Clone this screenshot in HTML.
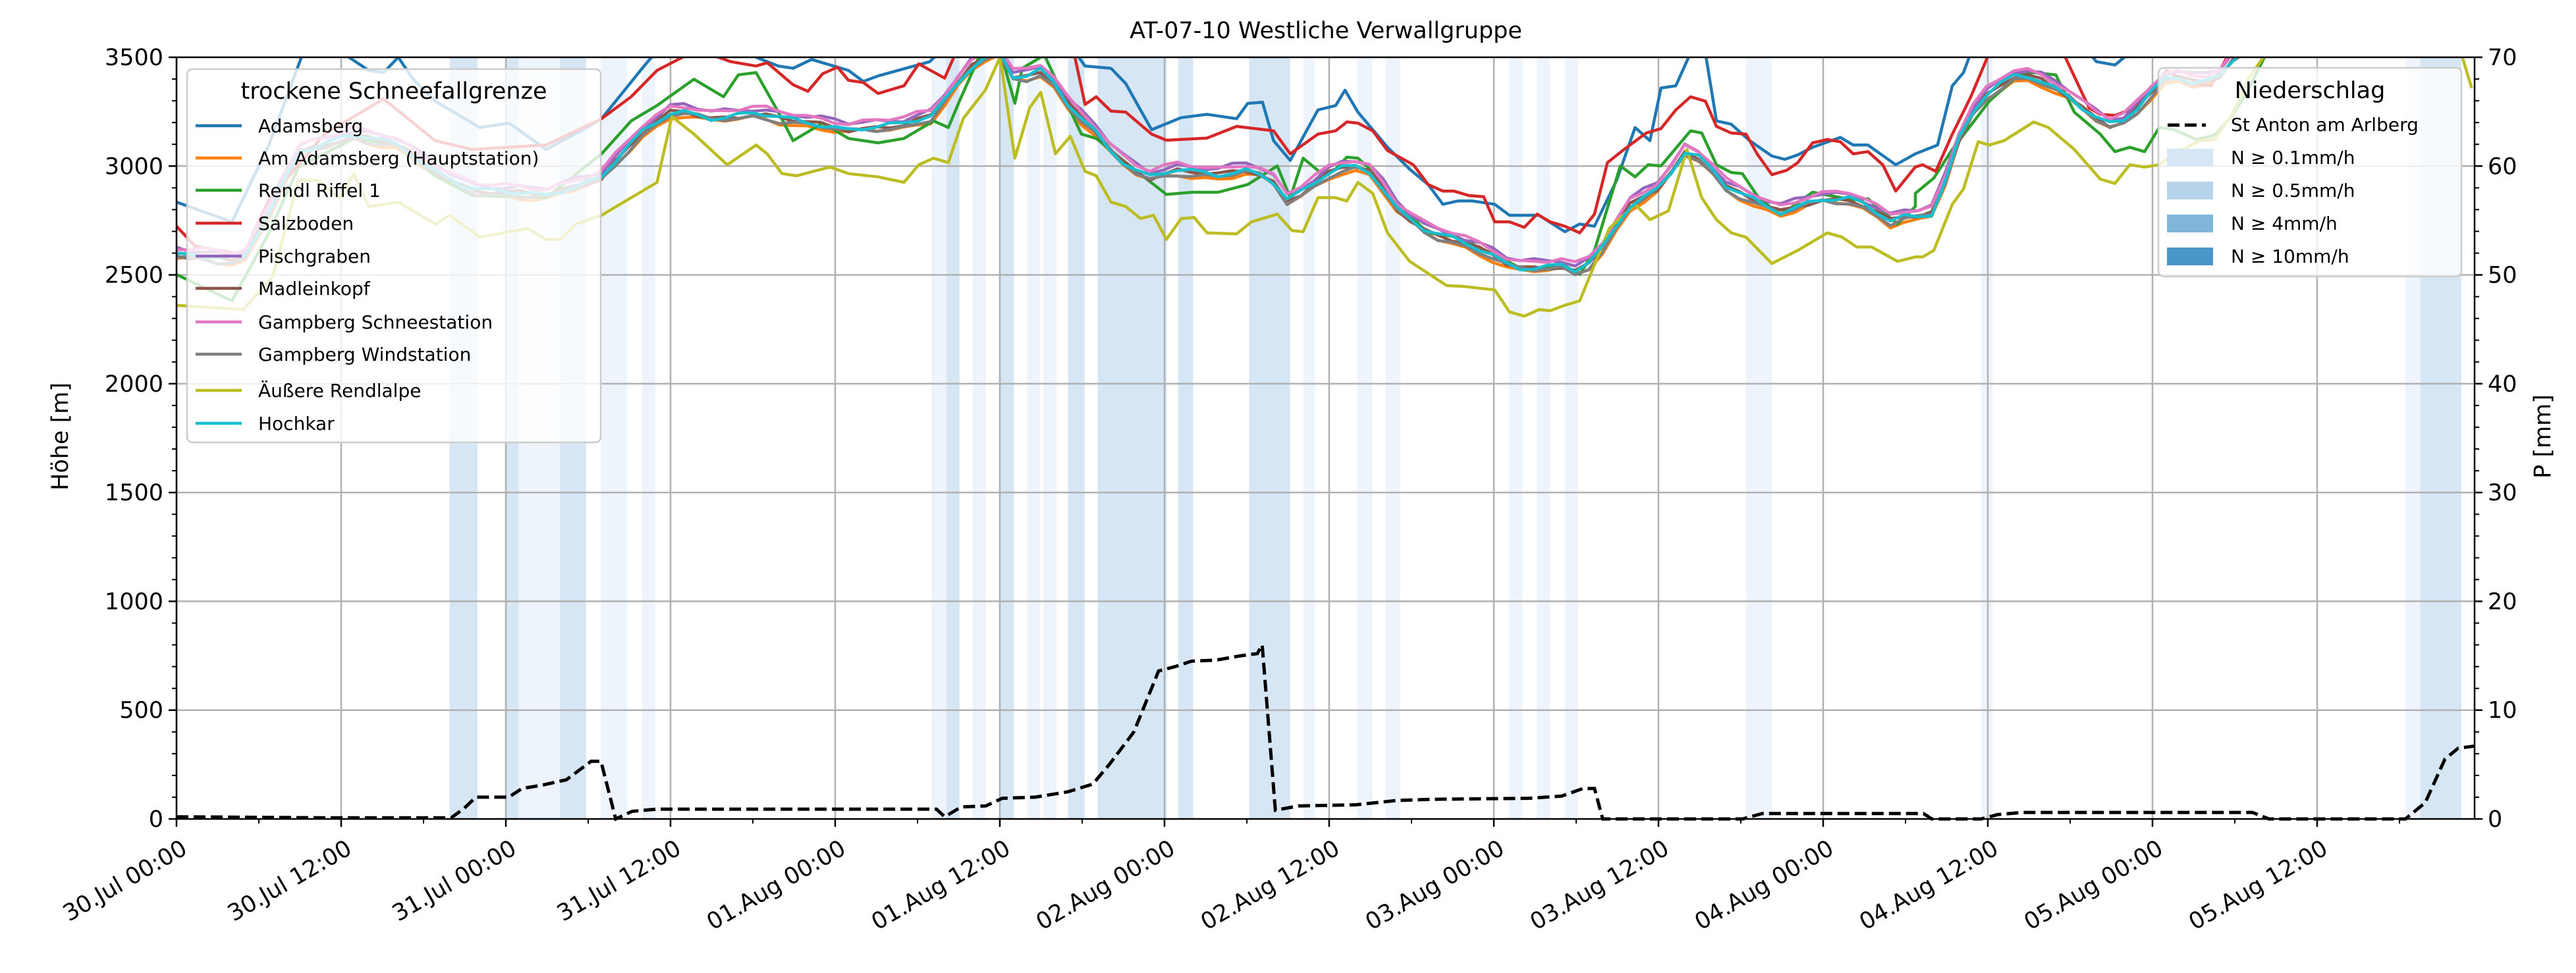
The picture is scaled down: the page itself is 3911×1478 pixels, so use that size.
<!DOCTYPE html>
<html><head><meta charset="utf-8">
<style>
html,body{margin:0;padding:0;background:#fff;}
svg{display:block;font-family:"DejaVu Sans","Liberation Sans",sans-serif;}
</style></head>
<body>
<svg id="s" width="3911" height="1478" viewBox="0 0 3911 1478" xmlns="http://www.w3.org/2000/svg">
<defs><clipPath id="c"><rect x="268" y="87" width="3489" height="1157"/></clipPath></defs>
<rect width="3911" height="1478" fill="#fff"/>
<g id="spans"></g>
<g id="grid"></g>
<g id="lines" fill="none" stroke-width="4.5" stroke-linejoin="round" clip-path="url(#c)"></g>
<g id="prec"></g>
<g id="axes"></g>
<g id="leg"></g>
<text x="2013" y="58" font-size="35" text-anchor="middle">AT-07-10 Westliche Verwallgruppe</text>
<text transform="translate(103,663) rotate(-90)" font-size="35" text-anchor="middle">Höhe [m]</text>
<text transform="translate(3872,663) rotate(-90)" font-size="35" text-anchor="middle">P [mm]</text>
</svg>
<script>
const NS="http://www.w3.org/2000/svg";
const L=268,R=3757,T=87,B=1244;
const fx=xd=>L+(xd-108)*(R-L)/1397;
function el(parent,tag,attrs,txt){const e=document.createElementNS(NS,tag);for(const k in attrs)e.setAttribute(k,attrs[k]);if(txt!==undefined)e.textContent=txt;document.getElementById(parent).appendChild(e);return e;}
const dark="#d6e6f4",light="#eef4fb";
const spans=[[274,291,dark],[308,316,dark],[316,341,light],[341,357,dark],[366,382,light],[391,399,light],
[567,576,light],[576,584,dark],[592,600,light],[608,617,dark],[625,633,light],[635,643,light],[650,660,dark],[668,710,dark],[717,726,dark],[760,785,dark],[793,800,light],[826,835,light],[843,852,light],[918,926,light],[935,943,light],[952,960,light],[1062,1078,light],[1205,1212,light],[1463,1472,light],[1472,1497,dark]];
spans.forEach(s=>el("spans","rect",{x:fx(s[0]),y:T,width:fx(s[1])-fx(s[0]),height:B-T,fill:s[2]}));
for(let i=0;i<14;i++){const x=L+i*250;el("grid","line",{x1:x,x2:x,y1:T,y2:B,stroke:"#b0b0b0","stroke-width":2.5});}
for(let i=1;i<7;i++){const y=B-i*(B-T)/7;el("grid","line",{x1:L,x2:R,y1:y,y2:y,stroke:"#b0b0b0","stroke-width":2.5});}
// data in zoom coords: groups per zoom
function conv(groups){const out=[];groups.forEach((g,z)=>g.forEach(p=>out.push([268+880*z+p[0]/1.782, 87+p[1]/3])));return out;}
const C=conv([
[[0,890],[180,920],[250,700],[330,420],[480,350],[600,390],[700,510],[800,600],[1000,620],[1150,540],[1250,350],[1350,230],[1450,270],[1568,250]],
[[60,270],[250,320],[400,300],[480,260],[540,120],[600,0],[660,-30],[700,100],[780,50],[860,250],[900,290],[950,400],[1000,480],[1060,540],[1140,510],[1250,530],[1340,500],[1400,560],[1440,650],[1520,560],[1568,500]],
[[60,490],[100,520],[170,690],[250,790],[330,830],[430,900],[480,950],[550,950],[620,940],[660,980],[720,870],[800,660],[880,580],[950,410],[1000,470],[1050,580],[1100,620],[1200,700],[1300,640],[1400,640],[1500,740],[1568,700]],
[[0,720],[50,700],[80,560],[130,300],[200,150],[280,70],[340,100],[400,150],[460,230],[520,300],[560,290],[620,200],[660,100],[700,80],[760,110],[820,80],[860,0],[900,-60],[1568,-100]]]);
const A=conv([
[[0,660],[150,750],[250,400],[340,-10],[440,-30],[520,60],[560,70],[600,0],[640,100],[700,200],[820,320],[900,300],[1000,420],[1100,330],[1150,280],[1260,50],[1300,-30],[1568,-40]],
[[0,0],[60,40],[100,50],[150,10],[250,60],[290,110],[330,85],[470,20],[500,-30],[860,-30],[890,40],[960,50],[1000,120],[1070,330],[1150,275],[1220,260],[1300,280],[1330,210],[1370,205],[1400,380],[1445,470],[1520,240],[1568,220]],
[[25,150],[60,250],[100,330],[140,410],[200,510],[250,580],[290,670],[330,655],[370,655],[430,670],[470,720],[550,720],[620,795],[660,760],[700,770],[760,560],[810,320],[850,380],[880,140],[920,130],[960,-20],[1000,-20],[1030,290],[1070,305],[1120,380],[1180,450],[1215,465],[1250,445],[1290,410],[1365,365],[1400,400],[1440,400],[1515,490],[1568,440]],
[[30,420],[60,400],[100,130],[130,70],[150,-20],[470,-20],[490,20],[540,35],[580,-20],[1568,-60]]]);
const S=conv([
[[0,770],[50,860],[180,900],[250,650],[400,350],[560,190],[700,380],[800,420],[1000,400],[1150,280],[1230,180],[1300,60],[1380,-10],[1450,-10],[1500,20],[1568,40]],
[[30,25],[100,125],[140,155],[180,75],[220,45],[250,105],[290,115],[330,165],[400,130],[440,30],[510,95],[540,-20],[860,-20],[890,215],[920,180],[960,245],[1000,250],[1070,350],[1110,378],[1220,368],[1300,315],[1400,335],[1445,440],[1520,350],[1568,335]],
[[30,295],[60,300],[100,335],[140,425],[210,490],[250,580],[290,610],[320,610],[360,630],[400,635],[430,750],[470,750],[510,775],[545,715],[580,750],[620,770],[660,800],[700,715],[735,480],[780,420],[840,345],[880,325],[920,240],[960,180],[1000,200],[1030,315],[1070,345],[1110,350],[1140,440],[1180,535],[1220,515],[1250,480],[1290,390],[1330,375],[1365,385],[1400,440],[1440,430],[1480,490],[1515,610],[1568,500]],
[[20,490],[55,520],[100,350],[150,180],[200,-20],[400,-20],[470,230],[500,260],[540,265],[580,240],[620,180],[680,60],[740,120],[800,130],[850,-20],[1568,-60]]]);
const G=conv([
[[0,990],[150,1110],[250,800],[330,500],[480,370],[600,400],[700,540],[800,630],[1000,640],[1150,440],[1230,290],[1300,220],[1400,100],[1480,180],[1520,80],[1568,70]],
[[60,250],[100,380],[180,300],[250,370],[330,390],[400,370],[480,290],[520,320],[550,200],[600,10],[660,-30],[700,210],[720,50],[780,-10],[880,350],[920,370],[1000,480],[1110,625],[1180,615],[1250,615],[1330,580],[1410,495],[1445,640],[1480,460],[1530,530],[1568,510]],
[[30,455],[60,460],[100,520],[180,690],[250,800],[330,820],[430,900],[510,970],[580,955],[620,950],[660,990],[700,880],[770,495],[810,545],[845,490],[880,495],[960,335],[990,345],[1030,490],[1070,525],[1100,530],[1140,630],[1180,690],[1220,700],[1290,615],[1400,650],[1440,645],[1520,760],[1568,680]],
[[0,620],[50,550],[100,420],[200,200],[280,80],[320,70],[380,80],[430,250],[500,350],[540,430],[580,410],[620,430],[660,320],[700,330],[760,375],[810,355],[860,260],[900,150],[950,-20],[1568,-60]]]);
const Y=conv([
[[0,1130],[180,1150],[260,1000],[330,560],[380,560],[440,640],[480,530],[520,680],[600,660],[700,760],[740,720],[820,820],[950,780],[1000,830],[1040,830],[1080,760],[1150,720],[1300,570],[1340,270],[1400,350],[1490,490],[1568,400]],
[[0,400],[30,440],[70,530],[110,540],[200,500],[250,530],[330,545],[400,570],[440,490],[480,460],[520,480],[560,280],[620,150],[660,0],[700,460],[740,230],[770,160],[810,440],[850,360],[890,520],[920,540],[960,660],[1000,680],[1040,735],[1075,720],[1110,830],[1150,735],[1185,730],[1220,800],[1300,805],[1340,750],[1410,715],[1450,790],[1480,795],[1520,640],[1568,640]],
[[30,655],[60,570],[100,620],[140,800],[200,930],[300,1040],[350,1045],[430,1060],[470,1160],[510,1180],[550,1150],[580,1155],[620,1130],[660,1110],[740,780],[810,670],[850,740],[900,700],[950,420],[990,640],[1030,740],[1070,800],[1110,820],[1180,940],[1250,880],[1330,800],[1370,820],[1410,865],[1450,865],[1520,930],[1568,910]],
[[20,910],[50,880],[100,670],[130,600],[170,385],[200,400],[240,380],[320,295],[360,320],[430,420],[500,555],[540,575],[580,490],[620,500],[660,490],[700,440],[770,380],[810,375],[860,250],[900,100],[950,-20],[1450,-30],[1480,0],[1505,140]]]);
function interp(p,x){if(x<=p[0][0])return p[0][1];for(let i=0;i<p.length-1;i++){if(x>=p[i][0]&&x<=p[i+1][0]){const t=(x-p[i][0])/((p[i+1][0]-p[i][0])||1);return p[i][1]+t*(p[i+1][1]-p[i][1]);}}return p[p.length-1][1];}
function pathOf(pts){return pts.map((p,i)=>(i?"L":"M")+p[0].toFixed(1)+","+p[1].toFixed(1)).join("");}
function clusterPath(off,ph){const pts=[];for(let h=0;h<=168;h++){const x=L+h*(R-L)/167.6;let y=interp(C,x)+(off+9*Math.sin(h*1.7+ph)+6*Math.sin(h*0.63+ph*2.1))/3;pts.push([x,y]);}return pathOf(pts);}
const series=[["Adamsberg","#1f77b4",pathOf(A)],["Am Adamsberg (Hauptstation)","#ff7f0e",clusterPath(25,2.1)],["Rendl Riffel 1","#2ca02c",pathOf(G)],["Salzboden","#d62728",pathOf(S)],["Pischgraben","#9467bd",clusterPath(-20,5.9)],["Madleinkopf","#8c564b",clusterPath(8,6.6)],["Gampberg Schneestation","#e377c2",clusterPath(-22,7.3)],["Gampberg Windstation","#7f7f7f",clusterPath(18,8.8)],["Äußere Rendlalpe","#bcbd22",pathOf(Y)],["Hochkar","#17becf",clusterPath(6,10.2)]];
series.forEach(s=>el("lines","path",{d:s[2],stroke:s[1]}));
const P=[[108,0.2],[200,0.1],[275,0.1],[283,1],[290,2],[310,2],[318,2.8],[330,3.1],[345,3.6],[360,5.3],[366,5.3],[375,0],[385,0.7],[400,0.9],[570,0.9],[575,0.2],[585,1.1],[600,1.2],[610,1.9],[630,2],[650,2.5],[665,3.2],[675,5],[690,8],[705,13.6],[715,14],[725,14.5],[740,14.6],[755,15],[765,15.2],[768,16],[776,0.8],[790,1.2],[825,1.3],[850,1.7],[870,1.8],[930,1.9],[950,2.1],[963,2.8],[970,2.8],[975,0],[1060,0],[1072,0.5],[1170,0.5],[1175,0],[1205,0],[1215,0.4],[1230,0.6],[1370,0.6],[1380,0],[1463,0],[1475,1.5],[1487,5.5],[1495,6.5],[1505,6.7]];
let pd="";P.forEach((p,i)=>{pd+=(i?"L":"M")+fx(p[0]).toFixed(1)+","+(B-p[1]*(B-T)/70).toFixed(1);});
el("prec","path",{d:pd,fill:"none",stroke:"#000","stroke-width":5,"stroke-dasharray":"18,8"});
el("axes","rect",{x:L,y:T,width:R-L,height:B-T,fill:"none",stroke:"#000","stroke-width":2.5});
for(let i=0;i<=35;i++){const y=B-i*(B-T)/35;const maj=i%5==0;el("axes","line",{x1:L-(maj?12:7),x2:L,y1:y,y2:y,stroke:"#000","stroke-width":maj?2.5:2});el("axes","line",{x1:R,x2:R+(maj?12:7),y1:y,y2:y,stroke:"#000","stroke-width":maj?2.5:2});
 if(maj){el("axes","text",{x:L-20,y:y+12,"font-size":35,"text-anchor":"end"},String(i*100));el("axes","text",{x:R+20,y:y+12,"font-size":35},String(i*2));}}
const labs=["30.Jul 00:00","30.Jul 12:00","31.Jul 00:00","31.Jul 12:00","01.Aug 00:00","01.Aug 12:00","02.Aug 00:00","02.Aug 12:00","03.Aug 00:00","03.Aug 12:00","04.Aug 00:00","04.Aug 12:00","05.Aug 00:00","05.Aug 12:00"];
for(let i=0;i<28;i++){const x=L+i*125;if(x>R)break;const maj=i%2==0;el("axes","line",{x1:x,x2:x,y1:B,y2:B+(maj?12:7),stroke:"#000","stroke-width":maj?2.5:2});
 if(maj)el("axes","text",{transform:`translate(${x+6},${B+30}) rotate(-30)`,"font-size":35,"text-anchor":"end","dominant-baseline":"hanging"},labs[i/2]);}
el("leg","rect",{x:284,y:105,width:628,height:567,rx:8,fill:"#fff","fill-opacity":0.8,stroke:"#cccccc","stroke-width":2.5});
el("leg","text",{x:598,y:150,"font-size":35,"text-anchor":"middle"},"trockene Schneefallgrenze");
const ly=[191,240,289,339,389,438,489,538,593,643];
series.forEach((s,i)=>{el("leg","line",{x1:297,x2:367,y1:ly[i],y2:ly[i],stroke:s[1],"stroke-width":4.5});el("leg","text",{x:392,y:ly[i]+10,"font-size":28},s[0]);});
el("leg","rect",{x:3277,y:103,width:460,height:317,rx:8,fill:"#fff","fill-opacity":0.8,stroke:"#cccccc","stroke-width":2.5});
el("leg","text",{x:3507,y:149,"font-size":35,"text-anchor":"middle"},"Niederschlag");
el("leg","line",{x1:3291,x2:3349,y1:190,y2:190,stroke:"#000","stroke-width":5,"stroke-dasharray":"18,8"});
el("leg","text",{x:3387,y:199,"font-size":28},"St Anton am Arlberg");
const pc=[["#d6e6f4","N ≥ 0.1mm/h"],["#b7d3ea","N ≥ 0.5mm/h"],["#80b6d9","N ≥ 4mm/h"],["#4a96c9","N ≥ 10mm/h"]];
pc.forEach((p,i)=>{const y=239+i*50;el("leg","rect",{x:3290,y:y-13,width:70,height:27,fill:p[0]});el("leg","text",{x:3387,y:y+10,"font-size":28},p[1]);});
</script>
</body></html>
